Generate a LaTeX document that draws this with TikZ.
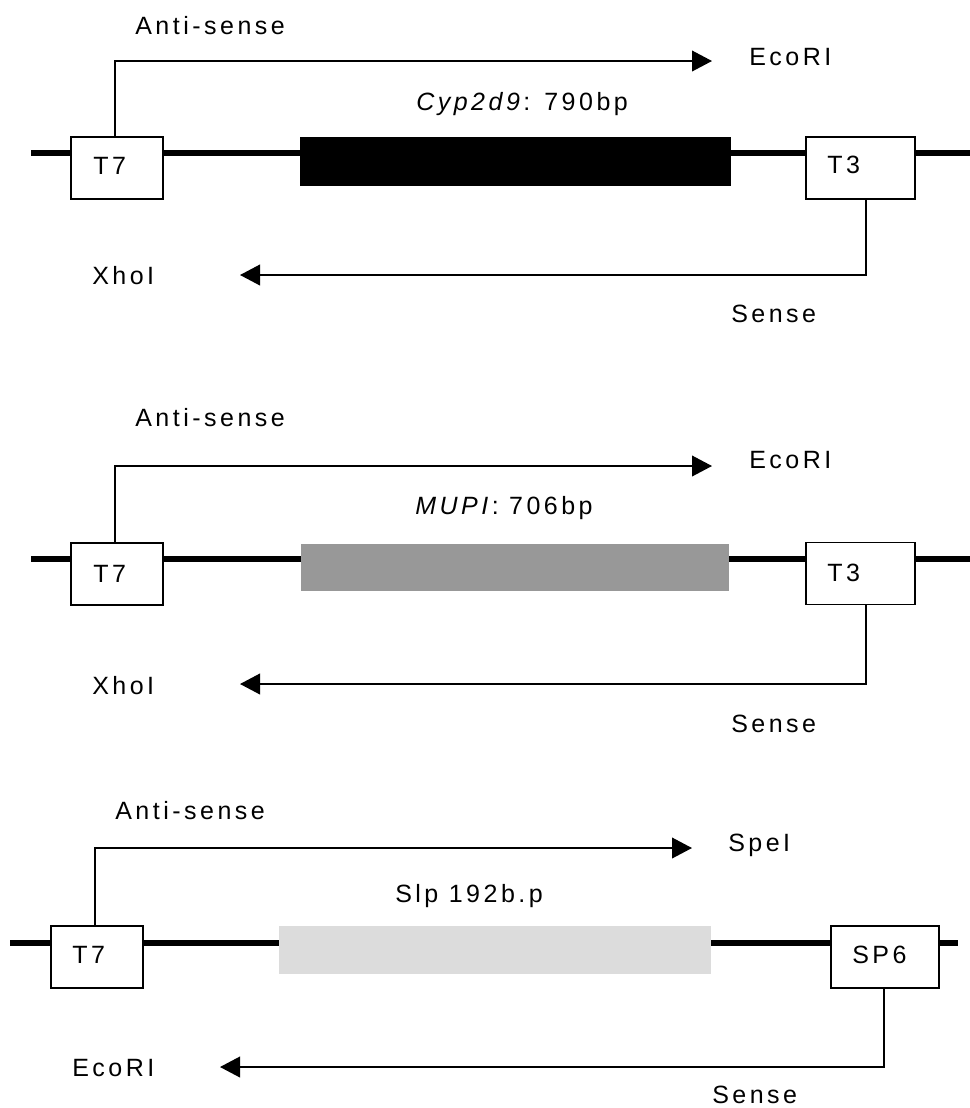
\documentclass[tikz,border=0pt]{standalone}
\usepackage{fontspec}
\setmainfont{Liberation Sans}[LetterSpace=14]
\usetikzlibrary{arrows.meta}
\begin{document}
\begin{tikzpicture}[x=0.75pt,y=-0.75pt,
  lbl/.style={anchor=base west, inner sep=0pt, font=\fontsize{18.75pt}{22pt}\selectfont},
  pbox/.style={draw, line width=1.4pt, fill=white, inner sep=0pt, minimum height=46.5pt},
  gene/.style={inner sep=0pt, draw=none},
  backbone/.style={line width=3.8pt},
  arr/.style={line width=1.3pt, -{Triangle[length=15pt,width=15.5pt]}}
]
\useasboundingbox (0,0) rectangle (970,1108);

% ---------- Panel 1 ----------
\draw[backbone] (31,153) -- (970,153);
\node[pbox, minimum width=69pt] (t7a) at (117,168) {};
\node[pbox, minimum width=81.75pt] (t3a) at (860.5,168) {};
\node[gene, fill=black, minimum width=323.25pt, minimum height=36.75pt] (g1) at (515.5,161.5) {};
\coordinate (c1) at (115,61);
\coordinate (e1) at (712,61);
\coordinate (c2) at (866,275);
\coordinate (x1) at (240,275);
\draw[arr] (t7a.north -| c1) -- (c1) -- (e1);
\draw[arr] (t3a.south -| c2) -- (c2) -- (x1);
\node[lbl] (as1) at (135,34) {Anti-sense};
\node[lbl] (eco1) at (749,65) {EcoRI};
\node[lbl] (gl1) at (416,110) {\textit{Cyp2d9}: 790bp};
\node[lbl] (t7l1) at (93,174) {T7};
\node[lbl] (t3l1) at (827,173) {T3};
\node[lbl] (xh1) at (92,284) {XhoI};
\node[lbl] (se1) at (731,322) {Sense};

% ---------- Panel 2 ----------
\draw[backbone] (31,559) -- (970,559);
\node[pbox, minimum width=69pt] (t7b) at (117,574) {};
\node[pbox, minimum width=81.75pt] (t3b) at (860.5,573.5) {};
\node[gene, fill={rgb,255:red,152;green,152;blue,152}, minimum width=321pt, minimum height=35.25pt] (g2) at (515,567.5) {};
\coordinate (c3) at (115,466);
\coordinate (e2) at (712,466);
\coordinate (c4) at (866,684);
\coordinate (x2) at (240,684);
\draw[arr] (t7b.north -| c3) -- (c3) -- (e2);
\draw[arr] (t3b.south -| c4) -- (c4) -- (x2);
\node[lbl] (as2) at (135,426) {Anti-sense};
\node[lbl] (eco2) at (749,468) {EcoRI};
\node[lbl] (gl2) at (415,514) {\textit{MUPI}: 706bp};
\node[lbl] (t7l2) at (93,582) {T7};
\node[lbl] (t3l2) at (827,581) {T3};
\node[lbl] (xh2) at (92,694) {XhoI};
\node[lbl] (se2) at (731,732) {Sense};

% ---------- Panel 3 ----------
\draw[backbone] (10,943) -- (958,943);
\node[pbox, minimum width=69pt] (t7c) at (97,957) {};
\node[pbox, minimum width=81pt] (sp6) at (885,957) {};
\node[gene, fill={rgb,255:red,220;green,220;blue,220}, minimum width=324pt, minimum height=36pt] (g3) at (495,950) {};
\coordinate (c5) at (95,848);
\coordinate (e3) at (692,848);
\coordinate (c6) at (884,1067);
\coordinate (x3) at (220,1067);
\draw[arr] (t7c.north -| c5) -- (c5) -- (e3);
\draw[arr] (sp6.south -| c6) -- (c6) -- (x3);
\node[lbl] (as3) at (115,819) {Anti-sense};
\node[lbl] (spe) at (728,851) {SpeI};
\node[lbl] (gl3) at (395,902) {Slp 192b.p};
\node[lbl] (t7l3) at (72,963) {T7};
\node[lbl] (sp6l) at (852,963) {SP6};
\node[lbl] (eco3) at (72,1076) {EcoRI};
\node[lbl] (se3) at (712,1103) {Sense};
\end{tikzpicture}
\end{document}
